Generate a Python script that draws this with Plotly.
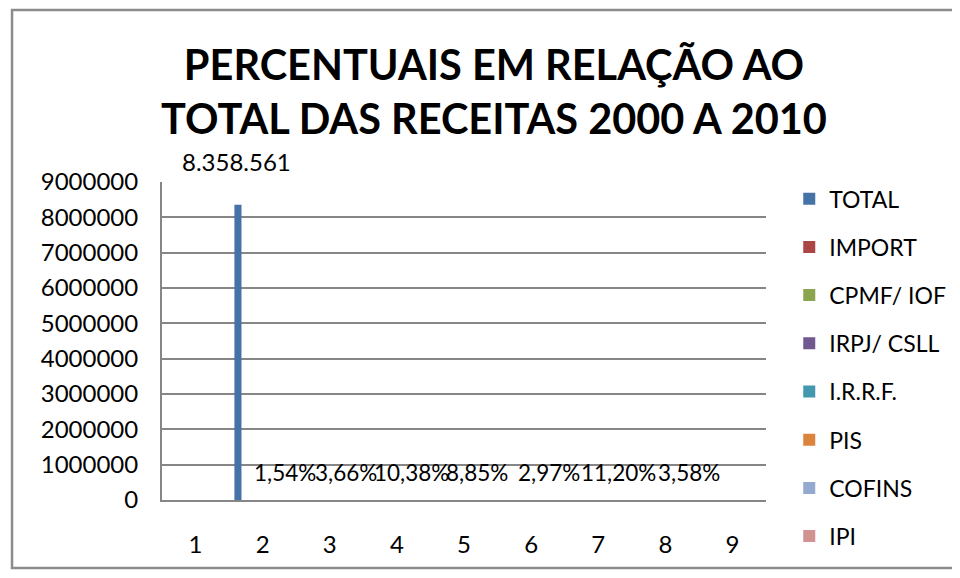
import plotly.graph_objects as go

# data
categories = [1, 2, 3, 4, 5, 6, 7, 8, 9]
series_names = ['TOTAL', 'IMPORT', 'CPMF/ IOF', 'IRPJ/ CSLL', 'I.R.R.F.',
                'PIS', 'COFINS', 'IPI']
total_value = 8358561
# share of each tax in the total (percent), one per tax series
shares = [1.54, 3.66, 10.38, 8.85, 2.97, 11.20, 3.58]

colors = ['#4572A7', '#AA4643', '#89A54E', '#71588F', '#4198AF',
          '#DB843D', '#93A9CF', '#D19392']

# label placement along the category axis (layout only)
share_label_x = [2.34, 3.24, 4.22, 5.20, 6.26, 7.30, 8.35]

FONT = 'Lato'
GRID = '#868686'

fig = go.Figure()

for i, name in enumerate(series_names):
    if i == 0:
        y = [total_value if c == 2 else None for c in categories]
    else:
        y = [shares[i - 1] / 100 if c == 2 else None for c in categories]
    fig.add_trace(go.Bar(
        x=categories,
        y=y,
        name=name,
        marker=dict(color=colors[i], line=dict(width=0)),
        legendgroup=name,
    ))

# value label of the total
fig.add_annotation(
    x=2, y=total_value, xref='x', yref='y',
    text=f'{total_value:,}'.replace(',', '.'),
    showarrow=False, xshift=-26, yshift=43,
    font=dict(family=FONT, size=24, color='black'),
)

# percentage labels
for xv, s in zip(share_label_x, shares):
    fig.add_annotation(
        x=xv, y=0, xref='x', yref='y',
        text=f'{s:.2f}%'.replace('.', ','),
        showarrow=False, yshift=28,
        font=dict(family=FONT, size=22.5, color='black'),
    )

# outer chart frame: left, top and bottom only (right side runs off the page)
fig.add_shape(type='path', xref='paper', yref='paper',
              path='M 1.6,1.541 L -0.2483,1.541 L -0.2483,-0.2138 L 1.6,-0.2138',
              line=dict(color='#8C8C8C', width=2.5), layer='below')

# the page has an 8px body margin on every side, keep the figure inside it
fig.update_layout(
    width=944, height=562,
    margin=dict(l=154, r=186, t=174, b=70, autoexpand=False),
    paper_bgcolor='white',
    plot_bgcolor='white',
    barmode='group',
    bargap=0.158,
    bargroupgap=0,
    font=dict(family=FONT, color='black'),
    title=dict(
        text='PERCENTUAIS EM RELAÇÃO AO<br>TOTAL DAS RECEITAS 2000 A 2010',
        x=486 / 944, xanchor='center', xref='container',
        y=1 - 72 / 562, yanchor='middle', yref='container',
        font=dict(family=FONT, size=41.5, color='black', weight='bold'),
    ),
    legend=dict(
        x=1.0385, y=1.015, xanchor='left', yanchor='top',
        font=dict(family=FONT, size=23, color='black'),
        tracegroupgap=15.3,
        bgcolor='rgba(0,0,0,0)',
        maxheight=600,
    ),
    showlegend=True,
)

fig.update_xaxes(
    range=[0.5, 9.5],
    tickvals=categories,
    ticktext=[str(c) for c in categories],
    showgrid=False,
    showline=True, linecolor=GRID, linewidth=2,
    ticks='', ticklabelstandoff=22,
    tickfont=dict(family=FONT, size=24, color='black'),
    zeroline=False,
)
fig.update_yaxes(
    range=[0, 9000000],
    dtick=1000000,
    tickformat='d',
    showgrid=True, gridcolor=GRID, gridwidth=2,
    showline=True, linecolor=GRID, linewidth=2,
    ticks='', ticklabelstandoff=17,
    tickfont=dict(family=FONT, size=24, color='black'),
    zeroline=False,
)

fig.write_html('out.html')
